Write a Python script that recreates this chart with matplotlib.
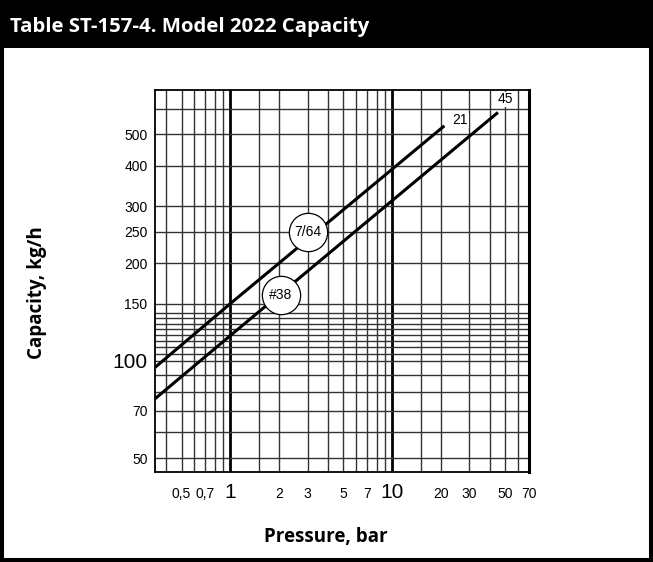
import numpy as np
import matplotlib.pyplot as plt
from matplotlib.patches import Rectangle

# capacity lines (pressure bar, capacity kg/h)
p_764 = [0.34, 1, 21]
cap_764 = [95, 150, 531]
p_38 = [0.34, 1, 45]
cap_38 = [76, 119.5, 584]
end_labels = ['21', '45']

# circled orifice labels
circ_text = ['7/64', '#38']
circ_x = [3.0, 2.05]
circ_y = [250, 160]

# grid + ticks
xgrid = [0.4, 0.5, 0.6, 0.7, 0.8, 0.9, 1, 1.5, 2, 3, 4, 5, 6, 7, 8, 9, 10,
         15, 20, 30, 40, 50, 60]
ygrid = [50, 60, 70, 80, 90, 100, 105, 110, 115, 120, 125, 130, 135, 140,
         150, 200, 250, 300, 400, 500, 600]
xticks = [0.5, 0.7, 1, 2, 3, 5, 7, 10, 20, 30, 50, 70]
xticklabels = ['0,5', '0,7', '1', '2', '3', '5', '7', '10', '20', '30', '50', '70']
yticks = [50, 70, 100, 150, 200, 250, 300, 400, 500]
yticklabels = ['50', '70', '100', '150', '200', '250', '300', '400', '500']
big = ['1', '10', '100']

W, H = 653, 562
fig = plt.figure(figsize=(W / 100, H / 100), dpi=100)

# frame and title band
fig.add_artist(Rectangle((0, 1 - 48 / H), 1, 48 / H, transform=fig.transFigure,
                         fc='black', ec='none', zorder=0))
fig.add_artist(Rectangle((2 / W, 2 / H), 1 - 4 / W, 1 - 4 / H, transform=fig.transFigure,
                         fill=False, ec='black', lw=2.9, zorder=5))
fig.text(10 / W, 1 - 27 / H, 'Table ST-157-4. Model 2022 Capacity', color='white',
         fontsize=14.7, fontweight='bold', family='Open Sans', va='center', ha='left')

ax = fig.add_axes([154.5 / W, 1 - 472 / H, 374.5 / W, 382 / H])
ax.set_xscale('log')
ax.set_yscale('log')
ax.set_xlim(0.34, 70)
ax.set_ylim(45.3, 685)

gc = '#333333'
for x in xgrid:
    lw = 2.0 if x in (1, 10) else 1.0
    ax.axvline(x, color='black' if lw > 1 else gc, lw=lw, zorder=1)
for y in ygrid:
    ax.axhline(y, color=gc, lw=1.0, zorder=1)

ax.plot(p_764, cap_764, color='black', lw=2.2, solid_capstyle='butt', zorder=3)
ax.plot(p_38, cap_38, color='black', lw=2.2, solid_capstyle='butt', zorder=3)

ax.annotate(end_labels[0], xy=(p_764[-1], cap_764[-1]), xytext=(6, 1),
            textcoords='offset points', ha='left', va='baseline', fontsize=10,
            family='Liberation Sans', zorder=4,
            bbox=dict(fc='white', ec='none', pad=0.5))
ax.annotate(end_labels[1], xy=(p_38[-1], cap_38[-1]), xytext=(5, 6.5),
            textcoords='offset points', ha='center', va='baseline', fontsize=10,
            family='Liberation Sans', zorder=4,
            bbox=dict(fc='white', ec='none', pad=0.5))

ax.scatter(circ_x, circ_y, s=760, facecolor='white', edgecolor='black', lw=0.9, zorder=5)
for t, x, y in zip(circ_text, circ_x, circ_y):
    ax.text(x, y, t, ha='center', va='center', fontsize=10,
            family='Liberation Sans', zorder=6)

ax.set_xticks(xticks)
ax.set_xticklabels(xticklabels)
ax.set_yticks(yticks)
ax.set_yticklabels(yticklabels)
ax.minorticks_off()
ax.tick_params(axis='x', length=0, pad=19)
ax.tick_params(axis='y', length=0, pad=5)
for lab in ax.get_xticklabels():
    lab.set_family('Liberation Sans')
    lab.set_fontsize(15 if lab.get_text() in big else 10)
    lab.set_va('baseline')
for lab in ax.get_yticklabels():
    lab.set_family('Liberation Sans')
    lab.set_fontsize(15 if lab.get_text() in big else 10)

for s in ax.spines.values():
    s.set_linewidth(1.3)
    s.set_zorder(4)
ax.spines['right'].set_linewidth(2.2)

fig.text(37 / W, 1 - 293 / H, 'Capacity, kg/h', rotation=90, fontsize=13.5,
         fontweight='bold', family='Open Sans', ha='center', va='center')
fig.text(326 / W, 1 - 537 / H, 'Pressure, bar', fontsize=13.5,
         fontweight='bold', family='Open Sans', ha='center', va='center')

fig.savefig('out.png', dpi=100)
